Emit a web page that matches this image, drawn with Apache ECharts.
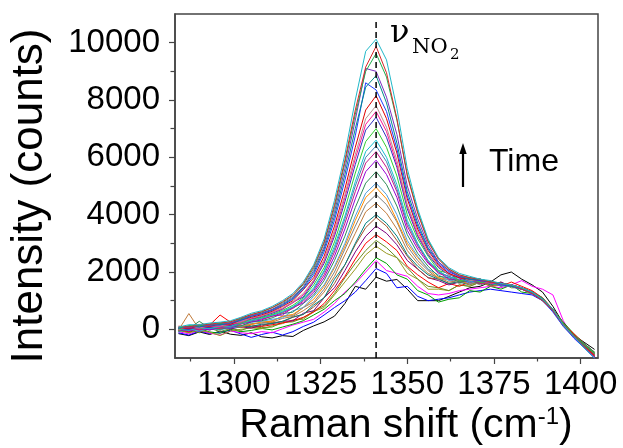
<!DOCTYPE html>
<html>
<head>
<meta charset="utf-8">
<script src="https://cdn.jsdelivr.net/npm/echarts@6/dist/echarts.min.js"></script>
<style>
  html, body { margin: 0; padding: 0; background: #fff; }
  #chart { width: 623px; height: 448px; }
</style>
</head>
<body>
<div id="chart"></div>
<script>
// Raman shift grid (cm-1) shared by every spectrum
const ramanShift = [1284, 1287, 1290, 1293, 1296, 1299, 1302, 1305, 1308, 1311, 1314, 1317, 1320, 1323, 1326,
  1329, 1332, 1335, 1338, 1341, 1344, 1347, 1350, 1353, 1356, 1359, 1362, 1365, 1368, 1371, 1374, 1377, 1380,
  1383, 1386, 1389, 1392, 1395, 1398, 1401, 1404];

// spectra in time order, intensity in counts
const spectrum01 = [-150,-220,-90,-180,-60,-170,-210,-120,-260,-300,-220,-250,-40,120,260,460,900,1500,1400,1820,1680,1740,1400,1000,1000,1000,1150,1300,1450,1500,1650,1900,2000,1750,1550,1300,800,200,-200,-450,-700];
const spectrum02 = [-120,-200,-60,-150,-100,-30,-160,-280,-180,-100,-200,-80,100,250,500,760,1000,1300,1700,2120,1950,1450,1500,1150,1000,1050,1100,1200,1300,1350,1400,1350,1300,1250,1200,1000,650,150,-250,-600,-950];
const spectrum03 = [-80,-160,-40,-130,-200,-60,-120,-150,-80,-120,20,150,250,350,600,900,1300,1600,2000,2400,2050,1950,1850,1500,1250,1200,1250,1350,1400,1450,1500,1450,1550,1700,1500,1400,1200,300,-300,-650,-1000];
const spectrum04 = [-40,-110,20,-90,-140,0,-80,-40,30,-20,80,180,300,500,700,1000,1250,1650,2100,2500,2300,1900,1750,1350,1200,950,1050,1100,1350,1300,1500,1400,1550,1300,1250,1050,700,250,-150,-500,-800];
const spectrum05 = [-20,-120,-30,-100,-220,-60,0,50,20,120,200,330,350,620,760,1200,1650,2100,2600,2900,2650,2500,1950,1750,1400,1400,1350,1550,1500,1650,1500,1550,1500,1400,1300,1050,650,150,-200,-550,-900];
const spectrum06 = [-60,-10,-120,40,-80,30,-40,90,60,80,240,260,400,640,820,1250,1800,2300,2750,3100,2850,2500,2150,1750,1500,1450,1350,1550,1500,1650,1550,1650,1450,1450,1300,1100,650,200,-150,-500,-800];
const spectrum07 = [0,-90,60,150,500,250,120,80,100,160,220,300,420,600,900,1350,1850,2450,3000,3300,3050,2750,2200,1900,1650,1450,1600,1500,1650,1600,1700,1500,1650,1500,1350,1100,700,200,-150,-500,-850];
const spectrum08 = [20,-60,40,-20,60,10,90,40,150,200,280,300,560,650,1100,1450,2050,2700,3250,3600,3350,2950,2400,2100,1800,1700,1550,1650,1600,1700,1500,1650,1500,1450,1300,1050,700,150,-250,-600,-900];
const spectrum09 = [30,60,-40,80,20,100,60,150,110,240,260,420,520,780,1100,1600,2250,2950,3550,3900,3600,3100,2550,2100,1800,1750,1600,1650,1600,1650,1550,1550,1550,1400,1300,1050,650,150,-200,-550,-900];
const spectrum10 = [50,-30,60,10,90,40,120,100,180,200,280,430,520,850,1100,1750,2250,3000,3700,4000,3700,3250,2600,2200,1900,1750,1600,1650,1550,1700,1550,1600,1500,1450,1300,1000,650,150,-200,-550,-850];
const spectrum11 = [-30,550,0,90,40,130,80,180,220,250,380,450,650,900,1300,1850,2600,3350,4100,4400,4050,3500,2750,2300,1950,1800,1650,1700,1550,1700,1500,1550,1500,1400,1250,1050,650,100,-250,-600,-950];
const spectrum12 = [0,100,30,110,60,150,120,200,220,300,450,480,760,950,1400,2000,2800,3600,4350,4700,4350,3750,2900,2400,2050,1750,1750,1600,1700,1550,1650,1550,1500,1400,1300,1050,700,200,-200,-500,-800];
const spectrum13 = [-60,40,0,60,30,100,130,170,260,280,460,520,760,1050,1500,2150,2900,3800,4600,4950,4550,3800,3000,2500,2100,1800,1750,1700,1600,1700,1600,1600,1500,1450,1300,1050,700,200,-200,-550,-850];
const spectrum14 = [-80,0,-60,30,-20,60,100,250,280,350,400,650,760,1150,1550,2200,3000,3950,4750,5100,4700,4000,3100,2550,2100,1900,1700,1750,1600,1700,1600,1550,1550,1450,1300,1050,650,150,-250,-550,-900];
const spectrum15 = [-70,20,280,40,0,80,120,260,300,400,550,600,900,1200,1700,2400,3250,4250,5100,5500,5050,4300,3300,2650,2200,1850,1800,1650,1700,1600,1650,1550,1500,1450,1300,1100,700,200,-200,-500,-800];
const spectrum16 = [0,-60,30,-20,70,40,190,260,330,470,500,760,920,1280,1800,2550,3500,4550,5500,5900,5400,4600,3450,2800,2300,2000,1750,1750,1650,1700,1600,1550,1500,1400,1300,1050,650,150,-250,-600,-950];
const spectrum17 = [-40,40,-10,70,30,110,180,300,360,450,580,730,980,1350,1900,2700,3700,4800,5800,6200,5650,4800,3600,2900,2350,1950,1850,1700,1750,1600,1600,1550,1550,1450,1300,1050,700,200,-200,-550,-900];
const spectrum18 = [10,-40,60,20,90,70,200,290,380,500,600,770,1020,1400,2000,2800,3850,5000,6000,6400,5850,4900,3700,2950,2400,2000,1850,1700,1750,1650,1650,1500,1550,1400,1300,1050,650,150,-250,-600,-900];
const spectrum19 = [20,-30,50,30,100,110,230,320,400,490,620,790,1050,1450,2050,2900,3950,5150,6200,6600,6000,5050,3800,3000,2400,2050,1800,1800,1650,1750,1600,1550,1500,1400,1250,1000,650,150,-250,-600,-950];
const spectrum20 = [-20,70,30,110,80,160,220,350,420,520,660,840,1100,1550,2150,3050,4200,5450,6550,7000,6350,5350,4000,3150,2550,2050,1950,1700,1750,1650,1600,1550,1500,1450,1300,1050,700,150,-200,-550,-850];
const spectrum21 = [40,0,80,70,140,140,270,370,450,560,700,950,1130,1650,2300,3250,4450,5750,6950,7400,6700,5650,4200,3250,2600,2150,1900,1800,1700,1700,1650,1550,1550,1450,1300,1050,650,150,-250,-600,-950];
const spectrum22 = [30,60,40,120,90,170,250,380,470,590,720,920,1200,1680,2380,3350,4600,5950,7150,7600,6900,5750,4300,3300,2650,2200,1950,1800,1750,1700,1600,1600,1500,1450,1300,1050,700,200,-200,-550,-900];
const spectrum23 = [0,90,50,130,120,200,270,400,480,600,750,950,1250,1720,2430,3450,4700,6100,7350,7800,7050,5900,4350,3400,2650,2200,1900,1850,1700,1700,1650,1550,1500,1400,1250,1000,650,150,-250,-600,-950];
const spectrum24 = [60,30,120,110,180,180,320,420,510,630,800,1000,1380,1800,2550,3600,4900,6350,7650,8150,7350,6150,4550,3500,2750,2250,1950,1800,1750,1700,1650,1600,1550,1450,1300,1050,700,200,-200,-550,-900];
const spectrum25 = [30,110,80,160,150,230,310,450,540,660,830,1050,1400,1900,2700,3800,5200,6750,8600,8350,7600,6300,4650,3600,2800,2300,2000,1850,1750,1700,1650,1550,1500,1400,1250,1000,600,100,-300,-650,-1000];
const spectrum26 = [50,90,110,140,170,210,340,460,560,680,860,1080,1450,1980,2800,3950,5400,7000,8450,8850,7900,6500,4800,3700,2850,2350,2050,1850,1750,1750,1650,1600,1500,1450,1300,1050,650,150,-250,-600,-950];
const spectrum27 = [80,50,140,140,200,220,360,480,570,700,890,1120,1490,2050,2880,4100,5600,7300,9100,9000,8100,6800,5000,3850,2950,2350,2050,1850,1800,1750,1650,1600,1550,1450,1300,1050,650,150,-250,-600,-950];
const spectrum28 = [40,130,120,190,200,270,370,520,600,750,930,1170,1560,2130,3000,4250,5800,7500,9000,9620,8800,7300,5400,4100,3100,2450,2100,1900,1800,1750,1650,1600,1550,1450,1300,1050,700,200,-200,-550,-850];
const spectrum29 = [110,80,170,180,230,260,400,510,620,760,960,1200,1600,2200,3050,4350,5900,7650,9150,9870,8950,7350,5350,4050,3050,2450,2100,1900,1800,1750,1650,1600,1550,1400,1250,1000,650,150,-250,-600,-950];
const spectrum30 = [80,160,160,220,250,300,420,560,650,800,1000,1250,1650,2250,3150,4500,6100,8000,9700,10120,9400,7700,5600,4200,3150,2500,2150,1950,1850,1750,1700,1600,1550,1450,1300,1050,700,150,-250,-650,-1000];

const spectra = [spectrum01, spectrum02, spectrum03, spectrum04, spectrum05, spectrum06, spectrum07, spectrum08,
  spectrum09, spectrum10, spectrum11, spectrum12, spectrum13, spectrum14, spectrum15, spectrum16,
  spectrum17, spectrum18, spectrum19, spectrum20, spectrum21, spectrum22, spectrum23, spectrum24,
  spectrum25, spectrum26, spectrum27, spectrum28, spectrum29, spectrum30];

const lineColors = ["#000000", "#0000ff", "#ff00ff", "#00a000", "#9a9a20", "#6b8e23", "#ff0000", "#800080",
  "#a0522d", "#008080", "#c07a3a", "#808080", "#ff8c00", "#4fa0e0", "#2e8b57", "#9400d3",
  "#c71585", "#4682b4", "#17becf", "#32cd32", "#3030c0", "#ff1493", "#bc8f8f", "#e00000",
  "#1f3fff", "#008b8b", "#7b2fbf", "#20b050", "#d62728", "#20b8c8"];

const xTickValues = [1300, 1325, 1350, 1375, 1400];
const xMinorTickValues = [1287.5, 1312.5, 1337.5, 1362.5, 1387.5];
const yTickValues = [0, 2000, 4000, 6000, 8000, 10000];
const yMinorTickValues = [1000, 3000, 5000, 7000, 9000];

const peakShift = 1341;      // nu(NO2) position
const peakLineSpan = [-1000, 10780];

const AXIS_COLOR = "#444";
const SANS = "'Liberation Sans', Arial, sans-serif";
const SERIF = "'DejaVu Serif', 'Liberation Serif', serif";

const chart = echarts.init(document.getElementById("chart"), null, { renderer: "canvas" });

const spectrumSeries = spectra.map((values, i) => ({
  type: "line",
  data: ramanShift.map((x, j) => [x, values[j]]),
  symbol: "none",
  showSymbol: false,
  clip: true,
  silent: true,
  lineStyle: { width: 1, color: lineColors[i] },
  itemStyle: { color: lineColors[i] }
}));

const peakLine = {
  type: "line",
  data: peakLineSpan.map(v => [peakShift, v]),
  symbol: "none",
  silent: true,
  z: 5,
  lineStyle: { width: 1.5, color: "#000", type: [6, 4] }
};

const plainNumber = v => String(v);

const option = {
  animation: false,
  backgroundColor: "#fff",
  grid: {
    left: 175, right: 25, top: 14, bottom: 90,
    show: true, borderColor: AXIS_COLOR, borderWidth: 1.5,
    outerBoundsMode: "none"
  },
  xAxis: [
    {
      type: "value", min: 1283, max: 1405, position: "bottom",
      axisLine: { onZero: false, lineStyle: { color: AXIS_COLOR, width: 1.5 } },
      axisTick: { customValues: xTickValues, length: 6, lineStyle: { color: AXIS_COLOR, width: 1.2 } },
      axisLabel: { customValues: xTickValues, formatter: plainNumber, color: "#000", fontSize: 33, fontFamily: SANS, margin: 10 },
      splitLine: { show: false }
    },
    {
      type: "value", min: 1283, max: 1405, position: "bottom",
      axisLine: { show: false, onZero: false },
      axisTick: { customValues: xMinorTickValues, length: 3.5, lineStyle: { color: AXIS_COLOR, width: 1.2 } },
      axisLabel: { show: false },
      splitLine: { show: false }
    }
  ],
  yAxis: [
    {
      type: "value", min: -1000, max: 11000, position: "left",
      axisLine: { show: true, onZero: false, lineStyle: { color: AXIS_COLOR, width: 1.5 } },
      axisTick: { show: true, customValues: yTickValues, length: 6, lineStyle: { color: AXIS_COLOR, width: 1.2 } },
      axisLabel: { customValues: yTickValues, formatter: plainNumber, color: "#000", fontSize: 33, fontFamily: SANS, margin: 15 },
      splitLine: { show: false }
    },
    {
      type: "value", min: -1000, max: 11000, position: "left",
      axisLine: { show: false, onZero: false },
      axisTick: { show: true, customValues: yMinorTickValues, length: 4.5, lineStyle: { color: AXIS_COLOR, width: 1.2 } },
      axisLabel: { show: false },
      splitLine: { show: false }
    }
  ],
  series: [...spectrumSeries, peakLine],
  graphic: [
    {
      type: "text", x: 30, y: 196, rotation: Math.PI / 2, silent: true,
      style: { text: "Intensity (counts)", fontSize: 44, fontFamily: SANS, fill: "#000", align: "center", verticalAlign: "middle" }
    },
    {
      type: "text", x: 406, y: 426, silent: true,
      style: {
        text: "Raman shift (cm{sup|-1})", fontSize: 41, fontFamily: SANS, fill: "#000",
        align: "center", verticalAlign: "middle",
        rich: { sup: { fontSize: 24, fontFamily: SANS, fill: "#000", verticalAlign: "top" } }
      }
    },
    {
      type: "text", x: 390, y: 34, silent: true,
      style: { text: "ν", fontSize: 32, fontFamily: SERIF, fill: "#000", align: "left", verticalAlign: "middle" }
    },
    {
      type: "text", x: 412, y: 48, silent: true,
      style: { text: "NO", fontSize: 21, fontFamily: SERIF, fill: "#000", align: "left", verticalAlign: "middle" }
    },
    {
      type: "text", x: 450, y: 55, silent: true,
      style: { text: "2", fontSize: 15, fontFamily: SERIF, fill: "#000", align: "left", verticalAlign: "middle" }
    },
    {
      type: "text", x: 489, y: 162, silent: true,
      style: { text: "Time", fontSize: 32, fontFamily: SANS, fill: "#000", align: "left", verticalAlign: "middle" }
    },
    {
      type: "line", silent: true,
      shape: { x1: 463, y1: 187, x2: 463, y2: 151 },
      style: { stroke: "#000", lineWidth: 2.2 }
    },
    {
      type: "polygon", silent: true,
      shape: { points: [[459.3, 154], [466.7, 154], [463, 143]] },
      style: { fill: "#000" }
    }
  ]
};

chart.setOption(option);
window.addEventListener("resize", () => chart.resize());
</script>
</body>
</html>
